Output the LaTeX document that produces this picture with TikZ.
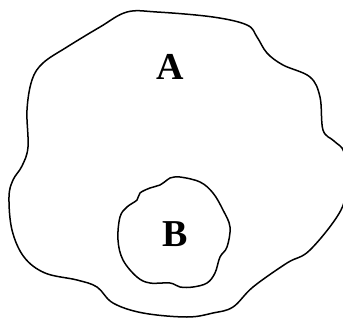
\documentclass[tikz,border=0pt]{standalone}
\usepackage{fontspec}
\setmainfont{Liberation Serif}
\begin{document}
\begin{tikzpicture}[x=1pt,y=-1pt,
  blob/.style={draw=black,line width=1.5pt,line join=round},
  lbl/.style={font=\fontsize{38}{38}\selectfont\bfseries,inner sep=0pt}]
\useasboundingbox (0,0) rectangle (343,322);
\begin{scope}
\clip (0,0) rectangle (343,322);
\draw[blob] plot[smooth cycle,tension=0.6] coordinates {
 (127,12) (157,12) (213,17) (247,25) (257,37) (267,53) (283,65) (310,77)
 (320,97) (323,130) (334,141) (344,152) (346,180) (341,210) (310,250)
 (287,263) (253,287) (233,307) (213,313) (187,317) (143,313) (113,303)
 (97,287) (77,280) (45,273) (24,257) (12,230) (9,197) (13,180) (22,166)
 (28,147) (27,110) (32,80) (43,63) (67,47) (100,27)};
\end{scope}
\draw[blob] plot[smooth cycle,tension=0.6] coordinates {
 (170,178) (180,177) (200,182) (213,193) (223,210) (230,227) (227,247)
 (220,257) (215,273) (207,283) (193,287) (180,287) (170,283) (150,283)
 (137,277) (123,260) (118,240) (120,217) (127,207) (137,200) (140,193)
 (150,188) (160,185) (167,180)};
\node[lbl] (A) at (170,67) {A};
\node[lbl] (B) at (175,234) {B};
\end{tikzpicture}
\end{document}
